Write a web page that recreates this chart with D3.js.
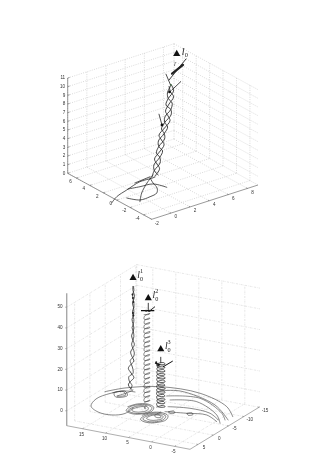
<!DOCTYPE html>
<html><head><meta charset="utf-8">
<script src="https://cdn.jsdelivr.net/npm/d3@7"></script>
<style>html,body{margin:0;padding:0;background:#fff}svg{display:block}text{filter:grayscale(1)}</style>
</head><body><svg id="c" width="317" height="475"></svg>
<script>
// ---------- upper chart data ----------
const topXTicks=[-2,0,2,4,6,8];
const topYTicks=[6,4,2,0,-2,-4];
const topZTicks=[0,1,2,3,4,5,6,7,8,9,10,11];
const strandY=1.85;
const strandZ=[0.12,0.78,1.43,2.09,2.73,3.38,4.03,4.68,5.30,5.94,6.57,7.21,7.9,8.57,9.25,9.94];
const strand1X=[3.29,3.77,3.50,3.24,3.76,4.24,3.97,3.71,4.29,4.86,4.65,4.39,4.76,5.23,4.91,4.76];
const strand2X=[3.61,3.22,3.18,3.79,4.08,3.69,3.65,4.26,4.61,4.31,4.33,4.94,5.08,4.68,4.59,4.93];
const strand3X=[2.97,3.22,3.82,3.79,3.44,3.69,4.29,4.26,3.97,4.31,4.97,4.94,4.44,4.68,5.23,5.04];
const topFloorCurves=[
 [[-2.67,-.2],[-1.59,.59],[-.12,1.19],[1.74,1.88],[2.92,1.81],[3.3,1.85]],
 [[-1.08,-.18],[-.45,-1.25],[.6,-1.25],[1.49,-.98],[2.11,-.14],[2.45,.94],[2.85,1.95]],
 [[.08,1.29],[1.14,1.02],[2.33,.77],[2.83,-.56]],
 [[-.66,-1.54],[.5,-.15],[2.05,1.27],[3.41,2.31]],
 [[1.26,1.93],[3,2.17]]
];
const topStems=[
 {pts:[[4.76,10.68],[6.53,12.47]],w:.9},
 {pts:[[5.07,11.29],[6.22,11.89]],w:2.2},
 {pts:[[4.93,10.0],[4.44,11.46]],w:.8},
 {pts:[[5.04,9.4],[5.98,10.05]],w:.8},
 {pts:[[4.02,5.74],[3.71,7.1]],w:.8}
];
const topDots=[[4.81,9.28],[4.96,10.04],[4.02,5.74]];
const topMarker=[5.56,13.39];
// ---------- lower chart data ----------
const lowATicks=[15,10,5,0,-5];
const lowBTicks=[5,0,-5,-10,-15];
const lowZTicks=[0,10,20,30,40,50];
const col1B=-6.1;
const col1Z=[0,2,4,6,8,10,12,14,16,18,20,22,24,26,28,30,32,34,36,38,40,42,44,46,48,50];
const col1AStrandA=[13.4,14.2,13.7,13.0,13.6,14.2,13.7,13.0,13.4,13.7,13.3,12.9,13.2,13.5,13.2,13.0,13.2,13.4,13.1,13.0,13.1,13.3,13.0,12.9,13.2,13.2];
const col1AStrandB=[13.8,13.4,14.0,14.1,13.2,13.2,13.5,13.8,13.1,12.9,13.2,13.5,13.2,13.0,13.1,13.4,13.1,13.0,13.2,13.3,13.0,13.0,13.2,13.3,13.0,13.1];
const col2A=[7.3,6.8,6.3,6.8,7.3,6.8,6.3,6.85,7.35,6.75,6.3,6.8,7.3,6.8,6.25,6.8,7.3,6.85,6.3,6.8,7.3,6.8,6.35,6.75,7.3,6.8,6.3,6.8,7.35,6.8,6.3,6.85,7.3,6.75,6.25,6.8,7.3,6.8,6.35,6.8,7.3,6.85,6.3,6.8,7.3,6.8,6.3,6.75,7.35,6.8,6.3,6.8,7.3,6.8,6.3,6.85,7.3,6.75,6.3,6.8,7.3,6.8,6.25,6.8,7.35,6.85,6.3,6.8,7.3,6.8,6.3,6.75,7.3,6.8,6.3,6.8,7.3,6.8,6.35,6.8];
const col2B=[-1.06,-2,-1.06,-.1,-1.1,-2,-1.05,-.15,-1.06,-2.05,-1.06,-.1,-1.0,-2,-1.1,-.12,-1.06,-1.95,-1.06,-.15,-1.1,-2,-1.0,-.12,-1.06,-2.02,-1.06,-.1,-1.05,-2,-1.1,-.15,-1.06,-2,-1.02,-.12,-1.1,-2.05,-1.06,-.12,-1.06,-1.98,-1.06,-.1,-1.0,-2,-1.1,-.15,-1.06,-2,-1.06,-.12,-1.1,-2.02,-1.02,-.12,-1.06,-2,-1.06,-.15,-1.05,-2.05,-1.06,-.1,-1.06,-2,-1.1,-.12,-1.02,-2,-1.06,-.15,-1.06,-1.98,-1.06,-.12,-1.1,-2,-1.06,-.12];
const col2Z=[1,1.55,2.1,2.65,3.2,3.75,4.3,4.85,5.4,5.95,6.5,7.05,7.6,8.15,8.7,9.25,9.8,10.35,10.9,11.45,12,12.55,13.1,13.65,14.2,14.75,15.3,15.85,16.4,16.95,17.5,18.05,18.6,19.15,19.7,20.25,20.8,21.35,21.9,22.45,23,23.55,24.1,24.65,25.2,25.75,26.3,26.85,27.4,27.95,28.5,29.05,29.6,30.15,30.7,31.25,31.8,32.35,32.9,33.45,34,34.55,35.1,35.65,36.2,36.75,37.3,37.85,38.4,38.95,39.5,40.05,40.6,41.15,41.7,42.25,42.8,43.35,43.9,44.45];
const col3A=[3.5,2.6,1.7,2.6,3.5,2.65,1.75,2.6,3.45,2.6,1.7,2.65,3.5,2.6,1.75,2.6,3.55,2.6,1.7,2.6,3.5,2.65,1.7,2.55,3.5,2.6,1.75,2.6,3.45,2.6,1.7,2.6,3.5,2.55,1.7,2.65,3.5,2.6,1.75,2.6,3.5,2.6,1.7,2.6,3.45,2.65,1.75,2.6,3.5,2.6,1.7,2.6];
const col3B=[.7,-.2,.7,1.6,.75,-.2,.7,1.55,.7,-.15,.7,1.6,.7,-.2,.75,1.6,.7,-.2,.7,1.65,.7,-.2,.65,1.6,.75,-.2,.7,1.6,.7,-.25,.7,1.6,.7,-.2,.7,1.55,.7,-.15,.7,1.6,.65,-.2,.75,1.6,.7,-.2,.7,1.6,.7,-.2,.7,1.6];
const col3Z=[2,2.4,2.9,3.3,3.7,4.2,4.6,5,5.4,5.9,6.3,6.7,7.2,7.6,8,8.5,8.9,9.3,9.7,10.2,10.6,11,11.5,11.9,12.3,12.7,13.2,13.6,14,14.5,14.9,15.3,15.7,16.2,16.6,17,17.5,17.9,18.3,18.7,19.2,19.6,20,20.5,20.9,21.3,21.7,22.2,22.6,23,23.4,23.7];
const lowFloorCurves=[
 [[8.29,1.26],[8.13,4.14],[9.87,5.77],[12.99,5.64],[15.78,3.74],[16.86,.48],[16.04,-2.87],[14.24,-5.06],[12.31,-5.44]],
 [[17.36,-3.21],[15.05,-6.29],[9.62,-9.57],[1.2,-10],[-6.85,-6.61],[-10.56,-2.99]],
 [[8.45,-7.81],[5.14,-9.37],[-4.45,-6.38],[-10.68,-1.27]],
 [[5.98,-6.28],[-.15,-7.95],[-7.82,-3.52],[-10.18,-1.03]],
 [[4.34,-4.91],[-.53,-6.3],[-7.45,-2.43],[-10.26,.71]],
 [[2.85,-2.01],[-1.21,-3.07],[-5.88,-2.6],[-9.07,-.51]],
 [[2,.27],[-2.03,-.78],[-5.8,-1.64],[-9.27,.31]],
 [[1.37,-.01],[.72,-.66],[.07,-.01],[.72,.64],[1.37,-.01]],
 [[-2.11,-.74],[-2.76,-1.39],[-3.41,-.74],[-2.76,-.09],[-2.11,-.74]],
 [[9.5,1.1],[8.7,-.7],[6.9,-1.5],[5.1,-.7],[4.3,1.1],[5.1,2.9],[6.9,3.7],[8.7,2.9],[9.1,1.1],[8.4,-.4],[6.9,-1.1],[5.3,-.4],[4.7,1.1],[5.3,2.7],[6.9,3.3],[8.4,2.7],[8.5,1.1],[8,0],[6.9,-.5],[5.8,0],[5.3,1.1],[5.8,2.2],[6.9,2.7],[8,2.2],[7.9,1],[7.4,.2],[6.9,-.1],[6.3,.2],[6.1,.7],[6.4,.3],[6.8,-.4],[6.8,-1.06]],
 [[4.8,3.5],[4,1.7],[2.2,.9],[.4,1.7],[-.4,3.5],[.4,5.3],[2.2,6.1],[4,5.3],[4.3,3.5],[3.7,2],[2.2,1.4],[.7,2],[.1,3.5],[.7,5],[2.2,5.6],[3.7,5],[3.8,3.4],[3.3,2.3],[2.2,1.9],[1.1,2.3],[.6,3.3],[1.1,4.4],[2.2,4.9],[3.3,4.4],[3.3,3.2],[2.9,2.5],[2.2,2.2],[1.5,2.4],[1.2,2.9],[1.7,3.3],[2.6,2.8],[2.62,.73]],
 [[15.8,-3.4],[14.2,-5],[12.6,-3.4],[14.2,-1.9],[15.5,-3.4],[14.2,-4.6],[13,-3.4],[14.2,-2.3],[13.4,-4.4],[13.2,-6.1]]
];
const lowStems=[
 {a:[8.1,-1.06,45.0],b:[5.21,-1.06,46.2],w:1.1},
 {a:[6.37,-1.06,45.3],b:[5.06,-1.06,48.2],w:.9},
 {a:[6.52,-1.06,49.4],b:[6.52,-1.06,45],w:.8},
 {a:[2.12,.73,22],b:[.01,.73,25.7],w:1.0},
 {a:[2.62,.73,26.6],b:[2.62,.73,23.7],w:.8},
 {a:[3.86,.73,23.2],b:[2.77,.73,22.6],w:1.4}
];
const lowKnots=[[13.2,-6.1,44.4],[13.3,-6.1,46],[13.1,-6.1,42.5],[13.2,-6.1,37.2],[13.1,-6.1,36],[7,-1.06,45.4],[6.2,-1.06,45.7],[3.6,.73,23.6],[3.2,.73,22.2]];
const lowMarkers=[{p:[13.18,-6.1,54.1],sup:"1"},{p:[6.52,-1.06,51.7],sup:"2"},{p:[2.62,.73,30.3],sup:"3"}];

// ---------- helpers ----------
const svg=d3.select("#c");
const sans="'Liberation Sans',Arial,sans-serif", serif="'Liberation Serif','Times New Roman',serif";
function makeProjection(c){
 const u=d3.scaleLinear().domain(c.uDomain).range([0,1]);
 const v=d3.scaleLinear().domain(c.vDomain).range([0,1]);
 const h=d3.scaleLinear().domain(c.zDomain).range([0,c.L[1]-c.Lt]);
 const e1=[c.F[0]-c.L[0],c.F[1]-c.L[1]], e2=[c.R[0]-c.F[0],c.R[1]-c.F[1]];
 return (a,b,z)=>{const U=u(a),V=v(b);return [c.L[0]+U*e1[0]+V*e2[0],c.L[1]+U*e1[1]+V*e2[1]-h(z)];};
}
const lineGen=d3.line().curve(d3.curveCatmullRom.alpha(.5));
function path(g,pts,stroke,w,extra){const p=g.append("path").attr("d",lineGen(pts)).attr("fill","none").attr("stroke",stroke).attr("stroke-width",w).attr("stroke-linecap","round").attr("stroke-linejoin","round");if(extra)p.attr("stroke-dasharray",extra);return p;}
function seg(g,a,b,stroke,w,dash){const p=g.append("line").attr("x1",a[0]).attr("y1",a[1]).attr("x2",b[0]).attr("y2",b[1]).attr("stroke",stroke).attr("stroke-width",w);if(dash)p.attr("stroke-dasharray",dash);return p;}
function label(g,p,dx,dy,t,anchor,size,fill){return g.append("text").attr("x",p[0]+dx).attr("y",p[1]+dy).attr("text-anchor",anchor||"middle").attr("dominant-baseline","middle").attr("font-family",sans).attr("font-size",size||4.6).attr("fill",fill||"#333").text(t);}
function triangle(g,p){const s=d3.symbol().type(d3.symbolTriangle).size(22)();g.append("path").attr("d",s).attr("transform",`translate(${p[0]},${p[1]})`).attr("fill","#111");}
function letter(g,x,y,t,size,italic){g.append("text").attr("x",x).attr("y",y).attr("font-family",serif).attr("font-size",size).attr("font-style",italic?"italic":"normal").attr("fill","#222").attr("text-anchor","middle").attr("dominant-baseline","middle").text(t);}

// ---------- upper chart ----------
(function(){
 const g=svg.append("g");
 const yMax=7.3,yMin=-5.2,xMin=-2,xMax=9.1,zMin=0,zMax=11;
 const P0=makeProjection({L:[67.7,173.3],F:[151.7,219.3],R:[258,185],Lt:78,uDomain:[yMax,yMin],vDomain:[xMin,xMax],zDomain:[zMin,zMax]});
 const P=(x,y,z)=>P0(y,x,z);
 const gc="#b4b4b4",dash="1 1.3",gw=.5;
 topXTicks.forEach(x=>{seg(g,P(x,yMin,0),P(x,yMax,0),gc,gw,dash);seg(g,P(x,yMax,0),P(x,yMax,zMax),gc,gw,dash);});
 topYTicks.forEach(y=>{seg(g,P(xMin,y,0),P(xMax,y,0),gc,gw,dash);seg(g,P(xMax,y,0),P(xMax,y,zMax),gc,gw,dash);});
 topZTicks.forEach(z=>{seg(g,P(xMin,yMax,z),P(xMax,yMax,z),gc,gw,dash);seg(g,P(xMax,yMax,z),P(xMax,yMin,z),gc,gw,dash);});
 seg(g,P(xMax,yMax,0),P(xMax,yMax,zMax),gc,gw,dash);
 const ax="#555";
 seg(g,P(xMin,yMax,0),P(xMin,yMax,zMax),ax,.6);
 seg(g,P(xMin,yMax,0),P(xMin,yMin,0),ax,.6);
 seg(g,P(xMin,yMin,0),P(xMax,yMin,0),ax,.6);
 topZTicks.forEach(z=>{const p=P(xMin,yMax,z);seg(g,p,[p[0]+2,p[1]-.6],ax,.5);label(g,p,-2.5,0,z,"end");});
 topXTicks.forEach(x=>{const p=P(x,yMin,0);seg(g,p,[p[0]-1.2,p[1]-.7],ax,.5);label(g,p,5,4,x);});
 topYTicks.forEach(y=>{const p=P(xMin,y,0);seg(g,p,[p[0]+1.8,p[1]-.6],ax,.5);label(g,p,-6,3.7,y);});
 topFloorCurves.forEach(c=>path(g,c.map(d=>P(d[0],d[1],0)),"#222",.75));
 [strand1X,strand2X,strand3X].forEach(s=>path(g,s.map((x,k)=>P(x,strandY,strandZ[k])),"#222",.85));
 topStems.forEach(s=>path(g,s.pts.map(d=>P(d[0],strandY,d[1])),"#222",s.w));
 topDots.forEach((d,i)=>{const p=P(d[0],strandY,d[1]);g.append("circle").attr("cx",p[0]).attr("cy",p[1]).attr("r",i==1?.9:1.4).attr("fill",i==1?"#2c5a30":"#111");});
 const m=P(topMarker[0],strandY,topMarker[1]);
 triangle(g,m);
 letter(g,m[0]+6.3,m[1]-1,"l",10,true);
 letter(g,m[0]+9.6,m[1]+1.4,"0",6.4,false);
 letter(g,m[0]-1.8,m[1]+11,"l",6,true);
})();

// ---------- lower chart ----------
(function(){
 const g=svg.append("g");
 const aMax=18.5,aMin=-8.3,bMax=7.6,bMin=-15.3,zMin=-7.2,zMax=56.7,zTop=50;
 const P=makeProjection({L:[66.7,425.7],F:[190,449.3],R:[260,406.7],Lt:293.3,uDomain:[aMax,aMin],vDomain:[bMax,bMin],zDomain:[zMin,zMax]});
 const gc="#cdcdcd",dash="2 1 .6 1",gw=.5;
 lowATicks.forEach(a=>{seg(g,P(a,bMax,zMin),P(a,bMin,zMin),gc,gw,dash);seg(g,P(a,bMin,zMin),P(a,bMin,zTop),gc,gw,dash);});
 lowBTicks.forEach(b=>{seg(g,P(aMin,b,zMin),P(aMax,b,zMin),gc,gw,dash);seg(g,P(aMax,b,zMin),P(aMax,b,zTop),gc,gw,dash);});
 lowZTicks.forEach(z=>{seg(g,P(aMax,bMax,z),P(aMax,bMin,z),gc,gw,dash);seg(g,P(aMax,bMin,z),P(aMin,bMin,z),gc,gw,dash);});
 seg(g,P(aMax,bMin,zMin),P(aMax,bMin,zTop),gc,gw,dash);
 const ax="#777";
 seg(g,P(aMax,bMax,zMin),P(aMax,bMax,zMax),"#a8a8a8",1.4);
 seg(g,P(aMax,bMax,zMin),P(aMin,bMax,zMin),ax,.6);
 seg(g,P(aMin,bMax,zMin),P(aMin,bMin,zMin),ax,.6);
 lowZTicks.forEach(z=>{const p=P(aMax,bMax,z);seg(g,p,[p[0]-1.6,p[1]],ax,.5);label(g,p,-4,0,z,"end");});
 lowATicks.forEach(a=>{const p=P(a,bMax,zMin);seg(g,p,[p[0]+.9,p[1]-1.2],ax,.5);label(g,p,-1.2,5.5,a);});
 lowBTicks.forEach(b=>{const p=P(aMin,b,zMin);seg(g,p,[p[0]-1.5,p[1]-.3],ax,.5);label(g,p,6,3.3,b);});
 lowFloorCurves.forEach(c=>path(g,c.map(d=>P(d[0],d[1],0)),"#3a3a3a",.6));
 path(g,col1Z.map((z,i)=>P(col1AStrandA[i],col1B,z)),"#222",.8);
 path(g,col1Z.map((z,i)=>P(col1AStrandB[i],col1B,z)),"#333",.8);
 path(g,col2Z.map((z,i)=>P(col2A[i],col2B[i],z)),"#3a3a3a",.6);
 path(g,col3Z.map((z,i)=>P(col3A[i],col3B[i],z)),"#222",.75);
 lowStems.forEach(s=>seg(g,P(...s.a),P(...s.b),"#111",s.w));
 lowKnots.forEach(k=>{const p=P(...k);g.append("circle").attr("cx",p[0]).attr("cy",p[1]).attr("r",1).attr("fill","#222");});
 lowMarkers.forEach(m=>{
  const p=P(...m.p);
  triangle(g,p);
  letter(g,p[0]+5.5,p[1]-2,"l",9.5,true);
  letter(g,p[0]+8.4,p[1]-6.4,m.sup,6.2,false);
  letter(g,p[0]+8.4,p[1]+1.2,"0",6.2,false);
 });
})();
</script></body></html>
